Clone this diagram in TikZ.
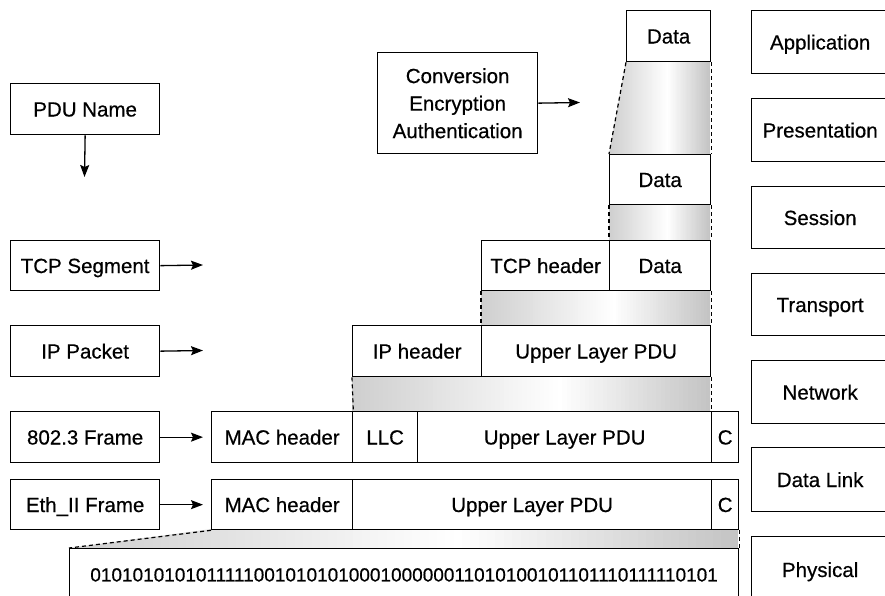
\documentclass[tikz,border=0pt]{standalone}
\usepackage{fontspec}
\setmainfont[FakeBold=0.5]{Liberation Sans}
\usetikzlibrary{arrows.meta}

% box with its top-left corner at (#2,#3), width #4, height #5
\newcommand\mkbox[6]{\node[box,minimum width=#4,minimum height=#5] (#1) at (#2,#3) {#6};}

% grey-white-grey horizontal gradient between x=#1 and x=#2, clipped to path #3
\newcommand\gband[3]{%
  \begin{scope}
    \clip #3;
    \pgfmathsetmacro\stripw{(#2-#1)/80}%
    \foreach \k in {0,...,79}{%
      \pgfmathsetmacro\t{\k/79}%
      \pgfmathsetmacro\g{ifthenelse(\t<0.58,19*(1-\t/0.58),23*(\t-0.58)/0.42)}%
      \pgfmathsetmacro\xa{#1+\stripw*\k}%
      \pgfmathsetmacro\xb{\xa+\stripw+0.6}%
      \fill[black!\g] (\xa,0) rectangle (\xb,600);
    }
  \end{scope}}

\begin{document}
\begin{tikzpicture}[x=1pt,y=-1pt,
  box/.style={draw,line width=1.3pt,rectangle,inner sep=0pt,anchor=north west,
    font=\fontsize{20.5}{27.5}\selectfont,text height=14.7pt,text depth=0pt},
  multibox/.style={box,text height=,align=center},
  arr/.style={line width=1.3pt,-{Stealth[length=12pt,width=9pt,inset=2pt]}},
  side/.style={line width=1.2pt,dash pattern=on 4pt off 3pt}]

\clip (0,0) rectangle (885,595);

% ---- PDU names ----
\mkbox{pdu}{10}{83}{149}{51}{PDU Name}
\mkbox{tcpseg}{10}{240}{149}{50}{TCP Segment}
\mkbox{ippkt}{10}{325}{149}{51}{IP Packet}
\mkbox{fr8023}{10}{411}{149}{51}{802.3 Frame}
\mkbox{freth}{10}{479}{149}{50}{Eth\_II Frame}

% ---- OSI layers ----
\mkbox{app}{751}{10}{137}{63}{Application}
\mkbox{pres}{751}{98}{137}{63}{Presentation}
\mkbox{sess}{751}{186}{137}{62}{Session}
\mkbox{trans}{751}{273}{137}{62}{Transport}
\mkbox{net}{751}{360}{137}{63}{Network}
\mkbox{dl}{751}{447}{137}{64}{Data Link}
\mkbox{phy}{751}{536}{137}{66}{Physical}

% ---- encapsulation bands ----
\gband{609}{710}{(626,61) -- (710,61) -- (710,154) -- (609,154) -- cycle}
\gband{609}{710}{(609,204) rectangle (710,240)}
\gband{481}{710}{(481,290) rectangle (710,325)}
\gband{352}{710}{(352,376) rectangle (710,411)}
\gband{69}{738}{(211,529) -- (738,529) -- (738,548) -- (69,548) -- cycle}

% ---- PDUs ----
\mkbox{dataA}{626}{10}{84}{51}{Data}
\mkbox{dataP}{609}{154}{101}{50}{Data}
\mkbox{tcph}{481}{240}{128}{50}{TCP header}
\mkbox{tcpd}{609}{240}{101}{50}{Data}
\mkbox{iph}{352}{325}{129}{51}{IP header}
\mkbox{ipd}{481}{325}{229}{51}{Upper Layer PDU}
\mkbox{macA}{211}{411}{141}{51}{MAC header}
\mkbox{llc}{352}{411}{65}{51}{LLC}
\mkbox{ulpA}{417}{411}{294}{51}{Upper Layer PDU}
\mkbox{crcA}{711}{411}{27}{51}{C}
\mkbox{macB}{211}{479}{141}{50}{MAC header}
\mkbox{ulpB}{352}{479}{359}{50}{Upper Layer PDU}
\mkbox{crcB}{711}{479}{27}{50}{C}
\node[box,minimum width=669,minimum height=52,font=\fontsize{19}{23}\selectfont,
  text height=13.6pt] (bits) at (69,548)
  {0101010101011111001010101000100000011010100101101110111110101};

\node[multibox,minimum width=160,minimum height=101] (conv) at (377,52)
  {Conversion\\Encryption\\Authentication};

% ---- dashed sides of the bands ----
\draw[side] (dataA.south west) -- (dataP.north west);
\draw[side] (dataA.south east) -- (dataP.north east);
\draw[side] (dataP.south west) -- (tcpd.north west);
\draw[side] (dataP.south east) -- (tcpd.north east);
\draw[side] (tcph.south west) -- (ipd.north west);
\draw[side] (tcpd.south east) -- (ipd.north east);
\draw[side] (iph.south west) -- (macA.north east);
\draw[side] (ipd.south east) -- (ipd.south east |- crcA.north);
\draw[side] (macB.south west) -- (bits.north west);
\draw[side] (crcB.south east) -- (bits.north east);

% ---- arrows ----
\coordinate (pduEnd) at (84.5,177);
\coordinate (tcpEnd) at (203,265);
\coordinate (ipEnd) at (203,350.5);
\coordinate (convEnd) at (580,102.5);
\draw[arr] (pdu.south) -- (pduEnd);
\draw[arr] (tcpseg.east) -- (tcpEnd);
\draw[arr] (ippkt.east) -- (ipEnd);
\draw[arr] (fr8023.east) -- ([xshift=-8pt]macA.west);
\draw[arr] (freth.east) -- ([xshift=-8pt]macB.west);
\draw[arr] (conv.east) -- (convEnd);
\end{tikzpicture}
\end{document}
